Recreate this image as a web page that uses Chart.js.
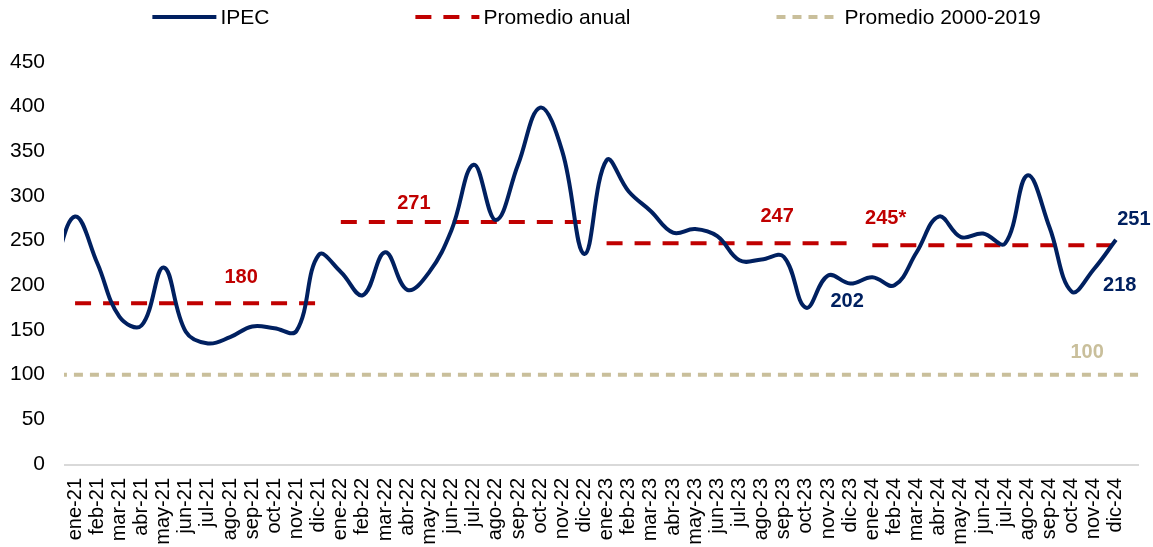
<!DOCTYPE html>
<html>
<head>
<meta charset="utf-8">
<script src="https://cdn.jsdelivr.net/npm/chart.js@4/dist/chart.umd.min.js"></script>
<style>
  html, body { margin: 0; padding: 0; background: #fff; }
  #wrap { width: 1153px; height: 547px; }
</style>
</head>
<body>
<div id="wrap"><canvas id="chart"></canvas></div>
<script>
const months = [
  'ene-21', 'feb-21', 'mar-21', 'abr-21', 'may-21', 'jun-21', 'jul-21', 'ago-21', 'sep-21', 'oct-21', 'nov-21', 'dic-21',
  'ene-22', 'feb-22', 'mar-22', 'abr-22', 'may-22', 'jun-22', 'jul-22', 'ago-22', 'sep-22', 'oct-22', 'nov-22', 'dic-22',
  'ene-23', 'feb-23', 'mar-23', 'abr-23', 'may-23', 'jun-23', 'jul-23', 'ago-23', 'sep-23', 'oct-23', 'nov-23', 'dic-23',
  'ene-24', 'feb-24', 'mar-24', 'abr-24', 'may-24', 'jun-24', 'jul-24', 'ago-24', 'sep-24', 'oct-24', 'nov-24', 'dic-24'
]
const ipec = [
  277, 225, 165, 155, 220, 148, 135, 142, 154, 152, 149, 234,
  215, 189, 237, 195, 215, 262, 335, 273, 335, 399, 350, 235,
  340, 305, 283, 259, 263, 255, 228, 229, 232, 175, 211, 202,
  209, 200, 237, 277, 254, 258, 247, 323, 265, 193, 218, 251
]
// the series starts before ene-21: only the tail of dic-20 shows at the left edge
const edgeMonths = ['dic-20', 'ene-25']
const ipecBefore = 215
const yearAvg = [180, 271, 247, 245]
const yearAvgText = ['180', '271', '247', '245*']
const histAvg = 100
const ipecNoted = [35, 46, 47] // months whose value is written on the chart

const NAVY = '#002060'
const RED = '#c00000'
const BEIGE = '#c9bf9b'
const AXIS = '#d9d9d9'
const FONT = "'Liberation Sans', Arial, sans-serif"

const labels = [edgeMonths[0], ...months, edgeMonths[1]]
const ipecData = [ipecBefore, ...ipec, null]
const avgData = [null, ...months.map((m, i) => yearAvg[Math.floor(i / 12)]), null]
// the 2000-2019 line runs across the whole plot, edge to edge
const histData = [{ x: -1, y: histAvg }, { x: months.length, y: histAvg }]
const yearOf = j => Math.floor((j - 1) / 12)

// where the written numbers sit (month position, pixel offset from the value)
const avgTextPlace = [
  { at: 7.5, dy: -26 },
  { at: 15.3, dy: -18 },
  { at: 31.7, dy: -27 },
  { at: 36.6, dy: -27 }
]
const ipecTextPlace = [
  { dx: -3, dy: 18 },
  { dx: 26, dy: 16 },
  { dx: 18, dy: -20 }
]
const histTextPlace = { at: 45.7, dy: -22 }
const axisOverhang = 12

const legendPlugin = {
  id: 'lineLegend',
  afterDraw(chart) {
    const { ctx } = chart
    const sample = 64, gap = 4, space = 146, y = 17
    ctx.save()
    ctx.font = '21px ' + FONT
    const items = chart.data.datasets.map(ds => ({ ds, w: sample + gap + ctx.measureText(ds.label).width }))
    const total = items.reduce((s, it) => s + it.w, 0) + space * (items.length - 1)
    let x = chart.width / 2 + 20 - total / 2
    items.forEach(({ ds, w }) => {
      ctx.beginPath()
      ctx.strokeStyle = ds.borderColor
      ctx.lineWidth = ds.borderWidth
      ctx.setLineDash(ds.borderDash || [])
      ctx.moveTo(x, y)
      ctx.lineTo(x + sample, y)
      ctx.stroke()
      ctx.setLineDash([])
      ctx.fillStyle = '#000'
      ctx.textBaseline = 'middle'
      ctx.textAlign = 'left'
      ctx.fillText(ds.label, x + sample + gap, y + 1)
      x += w + space
    })
    ctx.restore()
  }
}

const axisLinePlugin = {
  id: 'axisLine',
  beforeDatasetsDraw(chart) {
    const { ctx, chartArea } = chart
    ctx.save()
    ctx.strokeStyle = AXIS
    ctx.lineWidth = 2
    ctx.beginPath()
    ctx.moveTo(chartArea.left, chartArea.bottom + 1)
    ctx.lineTo(chartArea.right + axisOverhang, chartArea.bottom + 1)
    ctx.stroke()
    ctx.restore()
  }
}

const valueTextPlugin = {
  id: 'valueText',
  afterDatasetsDraw(chart) {
    const { ctx, scales: { x, y } } = chart
    ctx.save()
    ctx.font = 'bold 20px ' + FONT
    ctx.textAlign = 'center'
    ctx.textBaseline = 'middle'
    ctx.fillStyle = RED
    yearAvg.forEach((v, k) => {
      const p = avgTextPlace[k]
      ctx.fillText(yearAvgText[k], x.getPixelForValue(p.at + 1), y.getPixelForValue(v) + p.dy)
    })
    ctx.fillStyle = NAVY
    ipecNoted.forEach((i, k) => {
      const p = ipecTextPlace[k]
      ctx.fillText(String(ipec[i]), x.getPixelForValue(i + 1) + p.dx, y.getPixelForValue(ipec[i]) + p.dy)
    })
    ctx.fillStyle = BEIGE
    ctx.fillText(String(histAvg), x.getPixelForValue(histTextPlace.at + 1), y.getPixelForValue(histAvg) + histTextPlace.dy)
    ctx.restore()
  }
}

Chart.defaults.font.family = FONT
Chart.defaults.color = '#000'

new Chart(document.getElementById('chart'), {
  type: 'line',
  data: {
    labels,
    datasets: [
      {
        label: 'IPEC',
        data: ipecData,
        borderColor: NAVY,
        borderWidth: 4,
        tension: 0.4,
        pointRadius: 0,
        order: 1
      },
      {
        label: 'Promedio anual',
        data: avgData,
        borderColor: RED,
        borderWidth: 4,
        borderDash: [16, 12],
        pointRadius: 0,
        tension: 0,
        segment: {
          borderColor: c => yearOf(c.p0DataIndex) !== yearOf(c.p1DataIndex) ? 'rgba(0,0,0,0)' : undefined
        },
        order: 2
      },
      {
        label: 'Promedio 2000-2019',
        data: histData,
        xAxisID: 'xh',
        borderColor: BEIGE,
        borderWidth: 4,
        borderDash: [9, 7],
        borderDashOffset: 11,
        pointRadius: 0,
        tension: 0,
        clip: { left: 0, top: false, right: axisOverhang, bottom: false },
        order: 3
      }
    ]
  },
  options: {
    responsive: true,
    maintainAspectRatio: false,
    animation: false,
    events: [],
    layout: { padding: { top: 62, right: 26, left: 0, bottom: 0 } },
    plugins: {
      legend: { display: false },
      tooltip: { enabled: false }
    },
    scales: {
      x: {
        min: months[0],
        max: months[months.length - 1],
        offset: true,
        grid: { display: false },
        border: { display: false },
        ticks: {
          autoSkip: false,
          maxRotation: 90,
          minRotation: 90,
          padding: 6,
          font: { size: 20 }
        },
        afterFit: s => { s.height = 83 }
      },
      xh: {
        type: 'linear',
        display: false,
        min: -0.5,
        max: months.length - 0.5
      },
      y: {
        min: 0,
        max: 450,
        grid: { display: false },
        border: { display: false },
        ticks: { stepSize: 50, padding: 11, font: { size: 21 } },
        afterFit: s => { s.width = 64 }
      }
    }
  },
  plugins: [legendPlugin, axisLinePlugin, valueTextPlugin]
})
</script>
</body>
</html>
